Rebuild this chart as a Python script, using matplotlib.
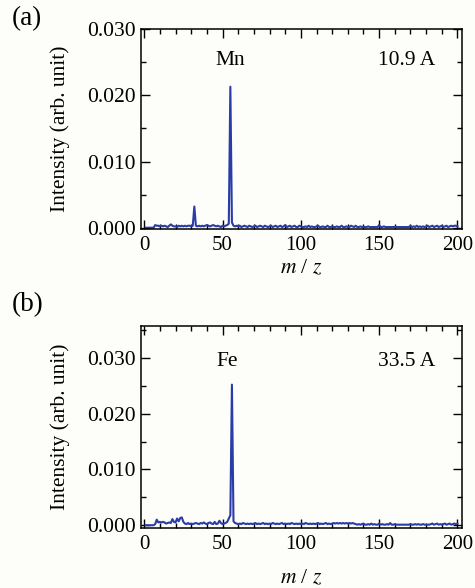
import numpy as np
import matplotlib.pyplot as plt
from matplotlib.ticker import MultipleLocator, FormatStrFormatter

plt.rcParams['font.family'] = ['Liberation Serif', 'DejaVu Serif']
plt.rcParams['mathtext.fontset'] = 'stix'

# === m/z axis (integer channels 1..200) ===
mz = list(range(1, 201))

# === Spectrum (a): Mn, 10.9 A ===
int_a = [
    0, 0, 0, 0, 0, 0, .0004, .0003, .0003, .0002, .0003, .0002, .0003, .0002, .0001, .0003, .0005, .0003, .0002, .0002,
    .0001, .0003, .0002, .0003, .0002, .0003, .0002, .0003, .0003, .0002, .0003, .0032, .0003, .0002, .0003, .0002, .0003, .0002, .0003, .0004,
    .0003, .0002, .0003, .0004, .0003, .0002, .0003, .0002, .0001, .0003, .0002, .0003, .0004, .0006, .0213, .0008, .0003, .0002, .0003, .0002,
    .0003, .0001, .0002, .0003, .0002, .0001, .0003, .0002, .0001, .0002, .0003, .0001, .0002, .0003, .0002, .0001, .0003, .0002, .0001, .0002,
    .0003, .0001, .0002, .0003, .0001, .0002, .0003, .0001, .0002, .0004, .0001, .0002, .0003, .0001, .0002, .0003, .0001, .0001, .0003, .0002,
    .0001, .0001, .0002, .0001, .0003, .0001, .0002, .0001, .0001, .0002, .0003, .0001, .0001, .0002, .0001, .0001, .0003, .0001, .0001, .0002,
    .0001, .0001, .0002, .0001, .0001, .0003, .0001, .0001, .0002, .0001, .0001, .0003, .0002, .0001, .0003, .0001, .0001, .0002, .0001, .0001,
    .0001, .0001, .0002, .0001, .0001, .0001, .0001, .0001, .0001, .0004, .0001, .0001, .0002, .0001, .0001, .0001, .0001, .0001, .0001, .0001,
    .0001, .0001, .0001, .0001, .0001, .0001, .0001, .0001, .0001, .0003, .0001, .0002, .0001, .0003, .0001, .0002, .0001, .0002, .0001, .0002,
    .0003, .0001, .0002, .0003, .0001, .0002, .0003, .0001, .0002, .0003, .0001, .0002, .0003, .0001, .0002, .0003, .0002, .0003, .0003, .0002,
]

# === Spectrum (b): Fe, 33.5 A ===
int_b = [
    0, 0, 0, 0, 0, 0, .0002, .0010, .0005, .0006, .0005, .0006, .0005, .0003, .0004, .0005, .0004, .0011, .0006, .0005,
    .0012, .0007, .0013, .0014, .0006, .0003, .0002, .0004, .0002, .0003, .0002, .0003, .0004, .0003, .0002, .0004, .0003, .0005, .0003, .0002,
    .0004, .0005, .0003, .0002, .0006, .0002, .0003, .0008, .0004, .0002, .0003, .0004, .0006, .0012, .0018, .0252, .0007, .0004, .0003, .0002,
    .0003, .0002, .0004, .0003, .0002, .0003, .0002, .0003, .0002, .0003, .0004, .0002, .0003, .0002, .0003, .0004, .0002, .0003, .0002, .0003,
    .0002, .0004, .0003, .0002, .0003, .0002, .0003, .0004, .0002, .0003, .0002, .0003, .0002, .0004, .0003, .0002, .0003, .0002, .0003, .0002,
    .0003, .0002, .0004, .0003, .0002, .0003, .0002, .0003, .0002, .0003, .0004, .0002, .0003, .0002, .0003, .0004, .0002, .0003, .0002, .0003,
    .0004, .0003, .0004, .0003, .0004, .0003, .0004, .0003, .0004, .0003, .0004, .0003, .0004, .0003, .0002, .0001, .0002, .0001, .0002, .0003,
    .0001, .0001, .0002, .0001, .0003, .0001, .0002, .0001, .0001, .0003, .0001, .0002, .0001, .0001, .0002, .0001, .0004, .0001, .0001, .0002,
    .0001, .0001, .0001, .0001, .0001, .0001, .0001, .0001, .0001, .0002, .0001, .0001, .0002, .0001, .0002, .0001, .0001, .0002, .0001, .0001,
    .0001, .0001, .0002, .0003, .0001, .0002, .0003, .0001, .0002, .0001, .0002, .0003, .0001, .0002, .0003, .0001, .0002, .0003, .0002, .0003,
]

panels = [
    dict(tag='(a)', y=int_a, elem='Mn', elem_xy=(55, 0.0253), cur='10.9 A', cur_y=0.0253,
         rect=[0.297, 0.6105, 0.676, 0.340], ylim=(-0.0002, 0.0300), xpad=3),
    dict(tag='(b)', y=int_b, elem='Fe', elem_xy=(53, 0.0293), cur='33.5 A', cur_y=0.0293,
         rect=[0.297, 0.102, 0.676, 0.3435], ylim=(-0.0005, 0.0357), xpad=11),
]
tag_y = [0.968, 0.482]

bg = '#fdfdf9'
fs = 15
fig = plt.figure(figsize=(4.75, 5.88), dpi=100, facecolor=bg)
for p, ty in zip(panels, tag_y):
    ax = fig.add_axes(p['rect'], facecolor=bg)
    ax.plot(mz, p['y'], color='#2a3ca8', lw=1.5)
    ax.set_xlim(-2, 203)
    ax.set_ylim(*p['ylim'])
    ax.xaxis.set_major_locator(MultipleLocator(50))
    ax.xaxis.set_minor_locator(MultipleLocator(10))
    ax.yaxis.set_major_locator(MultipleLocator(0.010))
    ax.yaxis.set_minor_locator(MultipleLocator(0.005))
    ax.yaxis.set_major_formatter(FormatStrFormatter('%.3f'))
    ax.tick_params(which='both', direction='in', top=True, right=True, labelsize=fs + 0.5, width=1.0)
    ax.tick_params(axis='x', labelsize=fs)
    ax.tick_params(which='major', length=6.5)
    ax.tick_params(which='minor', length=3.5)
    ax.tick_params(axis='x', which='major', pad=5)
    ax.tick_params(axis='y', which='major', pad=4)
    for s in ax.spines.values():
        s.set_linewidth(1.1)
    ax.set_ylabel('Intensity (arb. unit)', fontsize=15.5, labelpad=12)
    ax.set_xlabel('$m$ / $z$', fontsize=15.5, labelpad=p['xpad'])
    ax.text(p['elem_xy'][0], p['elem_xy'][1], p['elem'], fontsize=15.5, ha='center', va='center')
    ax.text(186, p['cur_y'], p['cur'], fontsize=15.5, ha='right', va='center')
    fig.text(0.025, ty, p['tag'], fontsize=19.5, ha='left', va='center')

fig.savefig('out.png', dpi=100, facecolor=bg)
